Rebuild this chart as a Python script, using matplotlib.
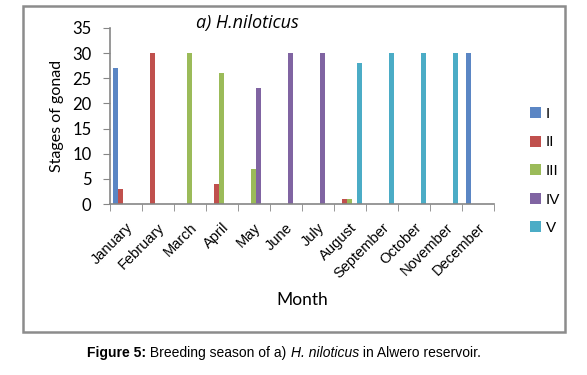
import numpy as np
import matplotlib.pyplot as plt
import matplotlib.transforms as mtransforms
from matplotlib.patches import Rectangle

months = ["January", "February", "March", "April", "May", "June", "July",
          "August", "September", "October", "November", "December"]
stages = ["I", "II", "III", "IV", "V"]

# values, one list per gonad stage
stage_I = [27, 0, 0, 0, 0, 0, 0, 0, 0, 0, 0, 30]
stage_II = [3, 30, 0, 4, 0, 0, 0, 1, 0, 0, 0, 0]
stage_III = [0, 0, 30, 26, 7, 0, 0, 1, 0, 0, 0, 0]
stage_IV = [0, 0, 0, 0, 23, 30, 30, 0, 0, 0, 0, 0]
stage_V = [0, 0, 0, 0, 0, 0, 0, 28, 30, 30, 30, 0]

colors = ['#5b86c4', '#c0504d', '#9bbb59', '#8064a2', '#4bacc6']

fig = plt.figure(figsize=(5.87, 3.75), dpi=100)
W, H = 587, 375

# outer chart border
fig.patches.append(Rectangle((23 / W, 1 - 332 / H), (565 - 23) / W, (332 - 6) / H,
                             transform=fig.transFigure, fill=False,
                             edgecolor='#8c8c8c', linewidth=1.8))

ax = fig.add_axes([109.5 / W, 1 - 204 / H, (494 - 109.5) / W, (204 - 28) / H])

x = np.arange(len(months))
bw = 1 / 6.5
series = [stage_I, stage_II, stage_III, stage_IV, stage_V]
for i, (vals, name, c) in enumerate(zip(series, stages, colors)):
    ax.bar(x + (i - 2) * bw, vals, width=bw, color=c, linewidth=0, label=name)

ax.set_xlim(-0.5, len(months) - 0.5)
ax.set_ylim(0, 35)
ax.set_yticks(range(0, 36, 5))
ax.set_xticks(x)
ax.set_xticklabels(months, rotation=45, ha='right', rotation_mode='anchor',
                   fontsize=10.5, family='Liberation Sans')
# nudge month labels left so their ends sit under the category centre
shift = mtransforms.ScaledTranslation(-5 / 72, 0, fig.dpi_scale_trans)
for lab in ax.get_xticklabels():
    lab.set_transform(lab.get_transform() + shift)
ax.set_xticks(np.arange(-0.5, len(months)), minor=True)
ax.tick_params(axis='x', which='major', length=0, pad=12)
ax.tick_params(axis='x', which='minor', length=5, color='#868686')
ax.tick_params(axis='y', length=5, color='#868686', labelsize=12, pad=8)
for lab in ax.get_yticklabels():
    lab.set_family('Lato')

for s in ['top', 'right']:
    ax.spines[s].set_visible(False)
for s in ['left', 'bottom']:
    ax.spines[s].set_color('#868686')
    ax.spines[s].set_linewidth(1.2)

ax.set_ylabel('Stages of gonad', fontsize=11.5, family='Lato', labelpad=6)
fig.text(302 / W, 1 - 300 / H, 'Month', ha='center', va='center',
         fontsize=12.5, family='Lato')
fig.text(247 / W, 1 - 23 / H, 'a) H.niloticus', ha='center', va='center',
         fontsize=13, family='Open Sans', style='italic')

ax.legend(loc='center left', bbox_to_anchor=(516 / W, 1 - 171 / H),
          bbox_transform=fig.transFigure, frameon=False,
          prop={'family': 'Liberation Sans', 'size': 11},
          handlelength=0.75, handleheight=0.75, handletextpad=0.3,
          labelspacing=0.95)

# caption with mixed bold / italic pieces
pieces = [("Figure 5:", 'bold', 'normal'),
          (" Breeding season of a) ", 'normal', 'normal'),
          ("H. niloticus", 'normal', 'italic'),
          (" in Alwero reservoir.", 'normal', 'normal')]
fig.canvas.draw()
renderer = fig.canvas.get_renderer()
texts = []
for s, wgt, sty in pieces:
    t = fig.text(0, 1 - 353 / H, s, fontsize=10, family='Liberation Sans',
                 weight=wgt, style=sty, va='center', ha='left')
    texts.append(t)
widths = [t.get_window_extent(renderer).width for t in texts]
xpos = 284 - sum(widths) / 2
for t, w in zip(texts, widths):
    t.set_x(xpos / W)
    xpos += w

fig.savefig('out.png', dpi=100)
